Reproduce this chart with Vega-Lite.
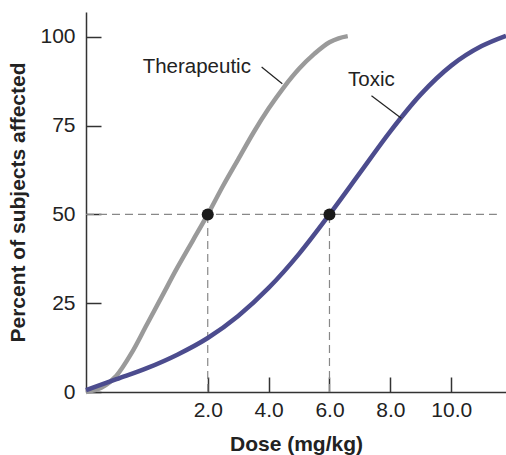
{
  "$schema": "https://vega.github.io/schema/vega-lite/v6.json",
  "width": 420,
  "height": 380,
  "autosize": "none",
  "padding": {"left": 86, "top": 12, "right": 0, "bottom": 63},
  "background": "white",
  "config": {
    "view": {"stroke": null},
    "font": "Liberation Sans",
    "axis": {
      "grid": false,
      "domainColor": "#333333",
      "domainWidth": 1.5,
      "tickColor": "#333333",
      "tickWidth": 1.5,
      "tickSize": -15,
      "labelFont": "Liberation Sans",
      "labelFontSize": 21,
      "labelColor": "#222222",
      "titleFont": "Liberation Sans",
      "titleFontSize": 21,
      "titleFontWeight": "bold",
      "titleColor": "#222222"
    }
  },
  "datasets": {
    "curves": [
      {"series": "Therapeutic", "dose": -2, "pct": 0},
      {"series": "Therapeutic", "dose": -1.5, "pct": 1.2},
      {"series": "Therapeutic", "dose": -1, "pct": 4.6},
      {"series": "Therapeutic", "dose": -0.5, "pct": 11},
      {"series": "Therapeutic", "dose": 0, "pct": 19},
      {"series": "Therapeutic", "dose": 0.5, "pct": 27},
      {"series": "Therapeutic", "dose": 1, "pct": 35},
      {"series": "Therapeutic", "dose": 1.5, "pct": 42.5},
      {"series": "Therapeutic", "dose": 2, "pct": 50},
      {"series": "Therapeutic", "dose": 2.5, "pct": 58},
      {"series": "Therapeutic", "dose": 3, "pct": 65.5},
      {"series": "Therapeutic", "dose": 3.5, "pct": 73},
      {"series": "Therapeutic", "dose": 4, "pct": 79.8},
      {"series": "Therapeutic", "dose": 4.5, "pct": 85.8},
      {"series": "Therapeutic", "dose": 5, "pct": 91},
      {"series": "Therapeutic", "dose": 5.5, "pct": 95.2},
      {"series": "Therapeutic", "dose": 6, "pct": 98.5},
      {"series": "Therapeutic", "dose": 6.3, "pct": 99.6},
      {"series": "Therapeutic", "dose": 6.6, "pct": 100.2},
      {"series": "Toxic", "dose": -2, "pct": 0.5},
      {"series": "Toxic", "dose": -1, "pct": 3.6},
      {"series": "Toxic", "dose": 0, "pct": 6.7},
      {"series": "Toxic", "dose": 1, "pct": 10.5},
      {"series": "Toxic", "dose": 2, "pct": 15.2},
      {"series": "Toxic", "dose": 3, "pct": 21.4},
      {"series": "Toxic", "dose": 4, "pct": 29.3},
      {"series": "Toxic", "dose": 5, "pct": 38.9},
      {"series": "Toxic", "dose": 6, "pct": 50},
      {"series": "Toxic", "dose": 7, "pct": 61.7},
      {"series": "Toxic", "dose": 8, "pct": 73.4},
      {"series": "Toxic", "dose": 9, "pct": 83.8},
      {"series": "Toxic", "dose": 10, "pct": 91.9},
      {"series": "Toxic", "dose": 11, "pct": 97.4},
      {"series": "Toxic", "dose": 11.8, "pct": 100.3}
    ],
    "guides": [
      {"x": -2, "x2": 11.5, "y": 50, "y2": 50},
      {"x": 2, "x2": 2, "y": 0, "y2": 50},
      {"x": 6, "x2": 6, "y": 0, "y2": 50}
    ],
    "dots": [
      {"dose": 2, "pct": 50},
      {"dose": 6, "pct": 50}
    ],
    "leaders": [
      {"x": 3.77, "x2": 4.45, "y": 91.5, "y2": 86.8},
      {"x": 7.38, "x2": 8.36, "y": 83.4, "y2": 77.1}
    ],
    "labels": [
      {"label": "Therapeutic", "dose": 1.64, "pct": 91.6},
      {"label": "Toxic", "dose": 7.38, "pct": 87.9}
    ]
  },
  "layer": [
    {
      "data": {"name": "guides"},
      "mark": {"type": "rule", "color": "#888888", "strokeWidth": 1.2, "strokeDash": [8, 5]},
      "encoding": {
        "x": {"field": "x", "type": "quantitative",
          "scale": {"domain": [-2, 11.8], "nice": false, "zero": false},
          "axis": {"values": [2, 4, 6, 8, 10], "format": ".1f", "title": "Dose (mg/kg)", "labelPadding": 22, "titlePadding": 13}},
        "x2": {"field": "x2"},
        "y": {"field": "y", "type": "quantitative",
          "scale": {"domain": [0, 107], "nice": false},
          "axis": {"values": [0, 25, 50, 75, 100], "title": "Percent of subjects affected", "labelPadding": 26, "titlePadding": 11}},
        "y2": {"field": "y2"}
      }
    },
    {
      "data": {"name": "curves"},
      "mark": {"type": "line", "strokeWidth": 4.5, "interpolate": "monotone", "strokeCap": "butt"},
      "encoding": {
        "x": {"field": "dose", "type": "quantitative"},
        "y": {"field": "pct", "type": "quantitative"},
        "color": {"field": "series", "type": "nominal",
          "scale": {"domain": ["Therapeutic", "Toxic"], "range": ["#9a9a9a", "#4c4c8e"]},
          "legend": null},
        "detail": {"field": "series"}
      }
    },
    {
      "data": {"name": "dots"},
      "mark": {"type": "circle", "size": 145, "color": "#1a1a1a", "opacity": 1},
      "encoding": {
        "x": {"field": "dose", "type": "quantitative"},
        "y": {"field": "pct", "type": "quantitative"}
      }
    },
    {
      "data": {"name": "leaders"},
      "mark": {"type": "rule", "color": "#222222", "strokeWidth": 1.2},
      "encoding": {
        "x": {"field": "x", "type": "quantitative"},
        "x2": {"field": "x2"},
        "y": {"field": "y", "type": "quantitative"},
        "y2": {"field": "y2"}
      }
    },
    {
      "data": {"name": "labels"},
      "mark": {"type": "text", "fontSize": 20.5, "color": "#222222", "font": "Liberation Sans", "align": "center", "baseline": "middle"},
      "encoding": {
        "x": {"field": "dose", "type": "quantitative"},
        "y": {"field": "pct", "type": "quantitative"},
        "text": {"field": "label"}
      }
    }
  ]
}
